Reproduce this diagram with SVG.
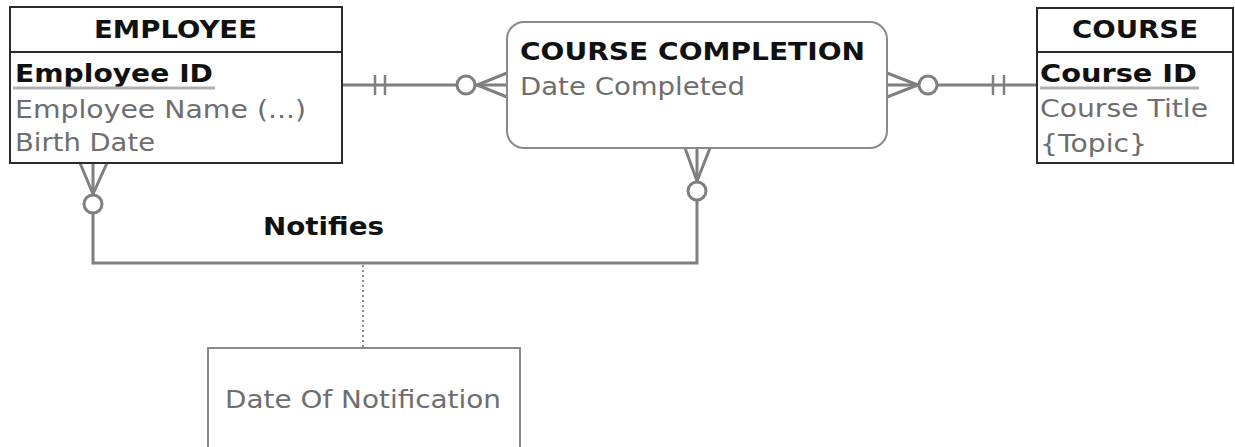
<svg xmlns="http://www.w3.org/2000/svg" width="1235" height="447" viewBox="0 0 1235 447">
<style>
.ent{fill:#fff;stroke:#2a2a2a;stroke-width:2}
.div{stroke:#2a2a2a;stroke-width:2}
.rel{fill:#fff;stroke:#8a8a8a;stroke-width:2}
.t{font-family:"DejaVu Sans","Liberation Sans",sans-serif;font-size:25.5px}
.b{font-weight:bold;fill:#111}
.a{fill:#6e6e6e}
.ul{stroke:#b0b0b0;stroke-width:3}
.c{fill:none;stroke:#7f7f7f;stroke-width:3}
.bar{fill:none;stroke:#7f7f7f;stroke-width:2.5}
.o{fill:#fff;stroke:#7f7f7f;stroke-width:3}
.dot{fill:none;stroke:#8a8a8a;stroke-width:2;stroke-dasharray:2 3}
</style>
<g id="connectors">
<!-- Employee - Course Completion -->
<line class="c" x1="342" y1="85" x2="507" y2="85"/>
<line class="bar" x1="375" y1="75" x2="375" y2="95"/>
<line class="bar" x1="385" y1="75" x2="385" y2="95"/>
<polyline class="c" points="507,73 477,85 507,97"/>
<circle class="o" cx="466" cy="85" r="9"/>
<!-- Course Completion - Course -->
<line class="c" x1="887" y1="85" x2="1037" y2="85"/>
<line class="bar" x1="993" y1="75" x2="993" y2="95"/>
<line class="bar" x1="1004" y1="75" x2="1004" y2="95"/>
<polyline class="c" points="887,73 918,85 887,97"/>
<circle class="o" cx="928" cy="85" r="9"/>
<!-- Notifies relationship -->
<polyline class="c" points="93,214 93,263 697,263 697,200"/>
<polyline class="c" points="80,163 93,194 107,163"/>
<line class="c" x1="93" y1="163" x2="93" y2="194"/>
<circle class="o" cx="93" cy="204" r="9"/>
<polyline class="c" points="685,148 697,181 710,148"/>
<line class="c" x1="697" y1="148" x2="697" y2="181"/>
<circle class="o" cx="697" cy="191" r="9"/>
<line class="dot" x1="363" y1="265" x2="363" y2="347"/>
<text class="t b" x="263" y="235" textLength="121" lengthAdjust="spacingAndGlyphs">Notifies</text>
</g>
<g id="employee">
<rect class="ent" x="10" y="7" width="332" height="156"/>
<line class="div" x1="10" y1="52" x2="342" y2="52"/>
<text class="t b" x="94" y="38" textLength="163" lengthAdjust="spacingAndGlyphs">EMPLOYEE</text>
<text class="t b" x="15" y="82" textLength="198" lengthAdjust="spacingAndGlyphs">Employee ID</text>
<line class="ul" x1="13" y1="88" x2="215" y2="88"/>
<text class="t a" x="15" y="118" textLength="291" lengthAdjust="spacingAndGlyphs">Employee Name (...)</text>
<text class="t a" x="15" y="151" textLength="140" lengthAdjust="spacingAndGlyphs">Birth Date</text>
</g>
<g id="course-completion">
<rect class="rel" x="507" y="22" width="380" height="126" rx="17" ry="17"/>
<text class="t b" x="520" y="60" textLength="345" lengthAdjust="spacingAndGlyphs">COURSE COMPLETION</text>
<text class="t a" x="520" y="95" textLength="225" lengthAdjust="spacingAndGlyphs">Date Completed</text>
</g>
<g id="course">
<rect class="ent" x="1037" y="8" width="196" height="155"/>
<line class="div" x1="1037" y1="52" x2="1233" y2="52"/>
<text class="t b" x="1072" y="38" textLength="126" lengthAdjust="spacingAndGlyphs">COURSE</text>
<text class="t b" x="1040" y="82" textLength="157" lengthAdjust="spacingAndGlyphs">Course ID</text>
<line class="ul" x1="1040" y1="88" x2="1199" y2="88"/>
<text class="t a" x="1040" y="117" textLength="168" lengthAdjust="spacingAndGlyphs">Course Title</text>
<text class="t a" x="1040" y="152" textLength="107" lengthAdjust="spacingAndGlyphs">{Topic}</text>
</g>
<g id="date-of-notification">
<rect class="rel" x="208" y="348" width="312" height="120"/>
<text class="t a" x="225" y="408" textLength="276" lengthAdjust="spacingAndGlyphs">Date Of Notification</text>
</g>
</svg>
